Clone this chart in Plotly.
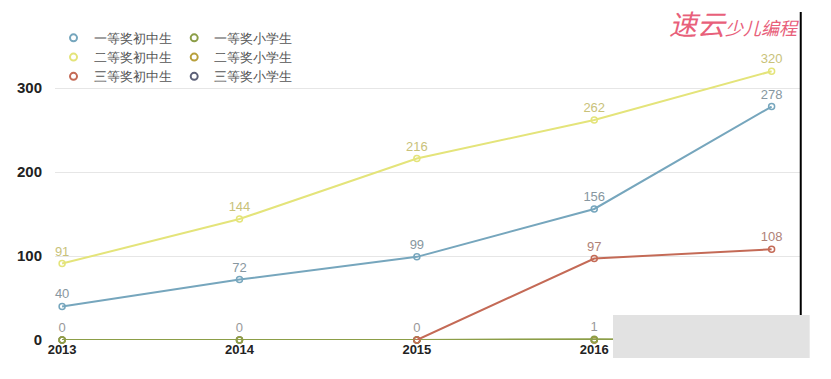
import plotly.graph_objects as go

years = [2013, 2014, 2015, 2016, 2017]
first_mid = [40, 72, 99, 156, 278]
second_mid = [91, 144, 216, 262, 320]
third_mid = [None, None, 0, 97, 108]
first_pri = [0, 0, 0, 1, 0]
second_pri = [0, 0, 0, 0, 0]
third_pri = [0, 0, 0, 0, 0]

names = ["一等奖初中生", "二等奖初中生", "三等奖初中生",
         "一等奖小学生", "二等奖小学生", "三等奖小学生"]
colors = ["#76a6bd", "#e4e47a", "#c46a56", "#8c9e48", "#b8a03c", "#5c6078"]
label_colors = ["#8797a0", "#c9c27a", "#b08277", "#999999", "#999999", "#999999"]
series = [first_mid, second_mid, third_mid, first_pri, second_pri, third_pri]
show_labels = [True, True, True, True, False, False]

font = "Liberation Sans, Arial, sans-serif"
fig = go.Figure()

order = [5, 4, 3, 2, 0, 1]
for i in order:
    vals = series[i]
    texts = None
    if show_labels[i]:
        texts = [("" if v is None else str(v)) for v in vals]
        if i == 2:
            texts = ["" if (v is None or v == 0) else str(v) for v in vals]
    fig.add_trace(go.Scatter(
        x=years, y=vals, mode="lines+markers+text" if texts else "lines+markers",
        text=texts, textposition="top center",
        textfont=dict(family=font, size=13, color=label_colors[i]),
        line=dict(color=colors[i], width=2),
        marker=dict(symbol="circle-open", size=6, color=colors[i], line=dict(width=1.5)),
        showlegend=False, cliponaxis=False, hoverinfo="skip"))

for i, n in enumerate(names):
    fig.add_trace(go.Scatter(
        x=[None], y=[None], mode="markers", name=n,
        marker=dict(symbol="circle-open", size=7, color=colors[i], line=dict(width=2)),
        legend="legend" if i < 3 else "legend2"))

legend_font = dict(size=12.5, color="#555")
fig.update_layout(
    width=831, height=379,
    margin=dict(l=55, r=31, t=20, b=39),
    paper_bgcolor="white", plot_bgcolor="white",
    font=dict(family=font),
    legend=dict(x=-0.002, y=0.99, xanchor="left", yanchor="top", bgcolor="rgba(0,0,0,0)",
                font=legend_font, tracegroupgap=0, itemwidth=30, traceorder="normal"),
    legend2=dict(x=0.16, y=0.99, xanchor="left", yanchor="top", bgcolor="rgba(0,0,0,0)",
                 font=legend_font, tracegroupgap=0, itemwidth=30, traceorder="normal"),
    xaxis=dict(range=[2012.96, 2017.16], tickvals=years, ticktext=[str(y) for y in years],
               showgrid=False, zeroline=False, showline=False, ticks="", automargin=False,
               tickfont=dict(size=13, color="#222", weight="bold")),
    yaxis=dict(range=[0, 381], tickvals=[0, 100, 200, 300], showgrid=True,
               gridcolor="#e6e6e6", gridwidth=1, zeroline=False, showline=False,
               ticks="", ticklabelstandoff=12, automargin=False,
               tickfont=dict(size=15, color="#222", weight="bold")),
)

fig.add_annotation(xref="paper", yref="paper", x=1.0, y=0.99, xanchor="right", yanchor="middle",
                   text="<i>速云</i><span style='font-size:18px'><i>少儿编程</i></span>",
                   showarrow=False, borderpad=0,
                   font=dict(size=28, color="#e8607a", family="Noto Sans CJK SC"))
fig.add_shape(type="line", xref="paper", yref="paper", x0=1.001, x1=1.001, y0=-0.022, y1=1.025,
              line=dict(color="black", width=2))
fig.add_shape(type="rect", xref="paper", yref="paper", x0=0.749, x1=1.013, y0=-0.056, y1=0.078,
              fillcolor="#e2e2e2", line=dict(width=0), layer="above")

fig.write_html("out.html", config={"displayModeBar": False},
               post_script="document.body.style.margin='0';")
